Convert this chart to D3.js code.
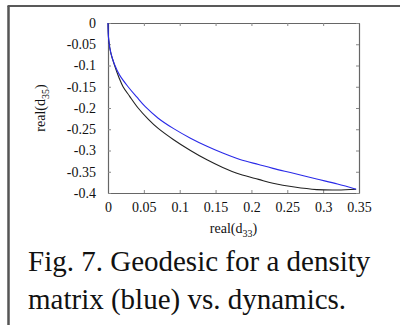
<html>
<head>
	<meta http-equiv="Content-Type" content="text/html; charset=utf-8" />
	<script src="https://cdn.jsdelivr.net/npm/d3@7/dist/d3.min.js" charset="utf-8"></script>
	<style type="text/css">
	body {
		margin: 0;
		background-color: #FFFFFF;
	}
	svg text {
		font-family: "Liberation Serif", "Times New Roman", serif;
		fill: #111;
	}
	</style>
</head>
<body>
	<svg width="400" height="325" version="1.1" xmlns="http://www.w3.org/2000/svg"></svg>

	<script type="text/javascript">
		// geodesic (blue)
		var v_BlueX = [0, 0.001, 0.004, 0.009, 0.016, 0.028, 0.04, 0.052, 0.07, 0.091, 0.115, 0.138, 0.16, 0.184, 0.21, 0.23, 0.26, 0.291, 0.32, 0.346];
		var v_BlueY = [0, -0.04, -0.071, -0.097, -0.122, -0.15, -0.174, -0.197, -0.224, -0.248, -0.271, -0.29, -0.306, -0.321, -0.333, -0.342, -0.354, -0.367, -0.379, -0.391];

		// dynamics (black)
		var v_BlackX = [0, 0.001, 0.004, 0.009, 0.015, 0.021, 0.03, 0.042, 0.056, 0.07, 0.091, 0.115, 0.138, 0.16, 0.184, 0.21, 0.23, 0.26, 0.291, 0.32, 0.346];
		var v_BlackY = [0, -0.04, -0.071, -0.099, -0.127, -0.15, -0.172, -0.2, -0.226, -0.248, -0.274, -0.3, -0.322, -0.34, -0.356, -0.368, -0.377, -0.386, -0.392, -0.393, -0.391];

		var v_XTicks = [0, 0.05, 0.1, 0.15, 0.2, 0.25, 0.3, 0.35];
		var v_YTicks = [0, -0.05, -0.1, -0.15, -0.2, -0.25, -0.3, -0.35, -0.4];
		var v_Caption = ["Fig. 7. Geodesic for a density", "matrix (blue) vs. dynamics."];

		var v_SVG = d3.select("svg");

		var v_Left = 108, v_Right = 359, v_Top = 23, v_Bottom = 193;

		var v_X = d3.scaleLinear().domain([0, 0.35]).range([v_Left, v_Right]);
		var v_Y = d3.scaleLinear().domain([-0.4, 0]).range([v_Bottom, v_Top]);

		/* 外框 */
		v_SVG.append("line")
		.attr("x1", 7.5).attr("y1", 6).attr("x2", 400).attr("y2", 6)
		.attr("stroke", "#222").attr("stroke-width", 1.5);

		v_SVG.append("line")
		.attr("x1", 8.5).attr("y1", 6).attr("x2", 8.5).attr("y2", 325)
		.attr("stroke", "#555").attr("stroke-width", 2.5);

		/* 坐标轴，用普通连字符作负号 */
		function tickFormat(d)
		{
			return String(+d.toFixed(2));
		}

		v_SVG.append("g")
		.attr("transform", "translate(0," + v_Bottom + ")")
		.call(d3.axisBottom(v_X).tickValues(v_XTicks).tickSizeInner(-3).tickSizeOuter(0).tickPadding(9).tickFormat(tickFormat));

		v_SVG.append("g")
		.attr("transform", "translate(0," + v_Top + ")")
		.call(d3.axisTop(v_X).tickValues(v_XTicks).tickSizeInner(-3).tickSizeOuter(0).tickFormat(""));

		v_SVG.append("g")
		.attr("transform", "translate(" + v_Left + ",0)")
		.call(d3.axisLeft(v_Y).tickValues(v_YTicks).tickSizeInner(-3).tickSizeOuter(0).tickPadding(12).tickFormat(tickFormat));

		v_SVG.append("g")
		.attr("transform", "translate(" + v_Right + ",0)")
		.call(d3.axisRight(v_Y).tickValues(v_YTicks).tickSizeInner(-3).tickSizeOuter(0).tickFormat(""));

		v_SVG.selectAll(".domain").attr("stroke", "#666").attr("stroke-width", 1.2);
		v_SVG.selectAll(".tick line").attr("stroke", "#888");
		v_SVG.selectAll(".tick text")
		.attr("font-family", "Liberation Serif, serif")
		.attr("font-size", 14)
		.attr("fill", "#111");

		/* 曲线 */
		var v_Line = d3.line()
		.x(function(d) { return v_X(d[0]); })
		.y(function(d) { return v_Y(d[1]); })
		.curve(d3.curveCatmullRom.alpha(0.5));

		v_SVG.append("path")
		.attr("d", v_Line(d3.zip(v_BlackX, v_BlackY)))
		.attr("fill", "none")
		.attr("stroke", "#222")
		.attr("stroke-width", 1.1);

		v_SVG.append("path")
		.attr("d", v_Line(d3.zip(v_BlueX, v_BlueY)))
		.attr("fill", "none")
		.attr("stroke", "#2a2ae8")
		.attr("stroke-width", 1.1);

		/* 轴标题 */
		var v_XLabel = v_SVG.append("text")
		.attr("x", (v_Left + v_Right) / 2)
		.attr("y", 233)
		.attr("text-anchor", "middle")
		.attr("font-size", 14);
		v_XLabel.append("tspan").text("real(d");
		v_XLabel.append("tspan").attr("font-size", 10).attr("dy", 4).text("33");
		v_XLabel.append("tspan").attr("dy", -4).text(")");

		var v_YLabel = v_SVG.append("text")
		.attr("transform", "translate(45," + ((v_Top + v_Bottom) / 2) + ") rotate(-90)")
		.attr("text-anchor", "middle")
		.attr("font-size", 14);
		v_YLabel.append("tspan").text("real(d");
		v_YLabel.append("tspan").attr("font-size", 10).attr("dy", 4).text("35");
		v_YLabel.append("tspan").attr("dy", -4).text(")");

		/* 图注 */
		v_SVG.selectAll(".caption")
		.data(v_Caption)
		.enter()
		.append("text")
		.attr("class", "caption")
		.attr("x", 28)
		.attr("y", function(d, i) { return 271 + i * 38; })
		.attr("font-size", 29)
		.text(function(d) { return d; });
	</script>
</body>
</html>
